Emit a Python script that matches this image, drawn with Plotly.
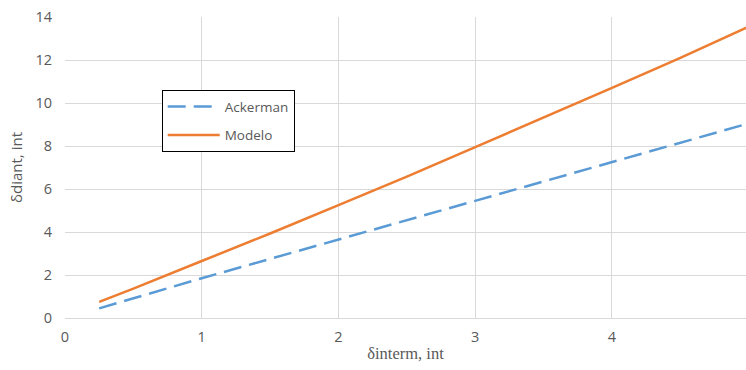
import plotly.graph_objects as go

# Steering angles: inner wheel (x) vs outer wheel (y)
x_vals = [0.25, 0.5, 1.0, 1.5, 2.0, 2.5, 3.0, 3.5, 4.0, 4.5, 5.0]
ackerman = [0.45, 0.92, 1.85, 2.75, 3.65, 4.55, 5.45, 6.35, 7.25, 8.15, 9.05]
modelo = [0.75, 1.37, 2.65, 3.93, 5.25, 6.58, 7.95, 9.32, 10.7, 12.1, 13.55]

font_family = "'Open Sans', sans-serif"
grid = "#D9D9D9"
text_col = "#595959"

fig = go.Figure()
fig.add_trace(go.Scatter(
    x=x_vals, y=ackerman, mode="lines", name="Ackerman", legendgroup="a",
    line=dict(color="#5B9BD5", width=2.5, dash="18px,8px"),
))
fig.add_trace(go.Scatter(
    x=x_vals, y=modelo, mode="lines", name="Modelo", legendgroup="b",
    line=dict(color="#ED7D31", width=2.5),
))

fig.update_layout(
    width=746, height=370,
    margin=dict(l=65, r=0, t=17, b=52),
    paper_bgcolor="white", plot_bgcolor="white",
    font=dict(family=font_family, color=text_col, size=14),
    legend=dict(
        x=0.142, y=0.757, xanchor="left", yanchor="top",
        bordercolor="black", borderwidth=1, bgcolor="white",
        font=dict(size=13.5, color=text_col),
        tracegroupgap=8, itemwidth=52,
    ),
    xaxis=dict(
        range=[0, 4.98], tick0=0, dtick=1,
        showgrid=True, gridcolor=grid, gridwidth=1,
        zeroline=False, showline=True, linecolor=grid, linewidth=1,
        ticks="", ticklabelstandoff=6,
        tickfont=dict(size=14.5),
        title=dict(text="δinterm, int",
                   font=dict(family="'Liberation Serif', serif", size=16.5, color=text_col),
                   standoff=2),
    ),
    yaxis=dict(
        range=[0, 14], tick0=0, dtick=2,
        showgrid=True, gridcolor=grid, gridwidth=1,
        zeroline=False, showline=False,
        ticks="", ticklabelstandoff=12,
        tickfont=dict(size=14.5),
        title=dict(text="δdiant, int", font=dict(size=15, color=text_col), standoff=9),
    ),
)

fig.write_html("out.html")
